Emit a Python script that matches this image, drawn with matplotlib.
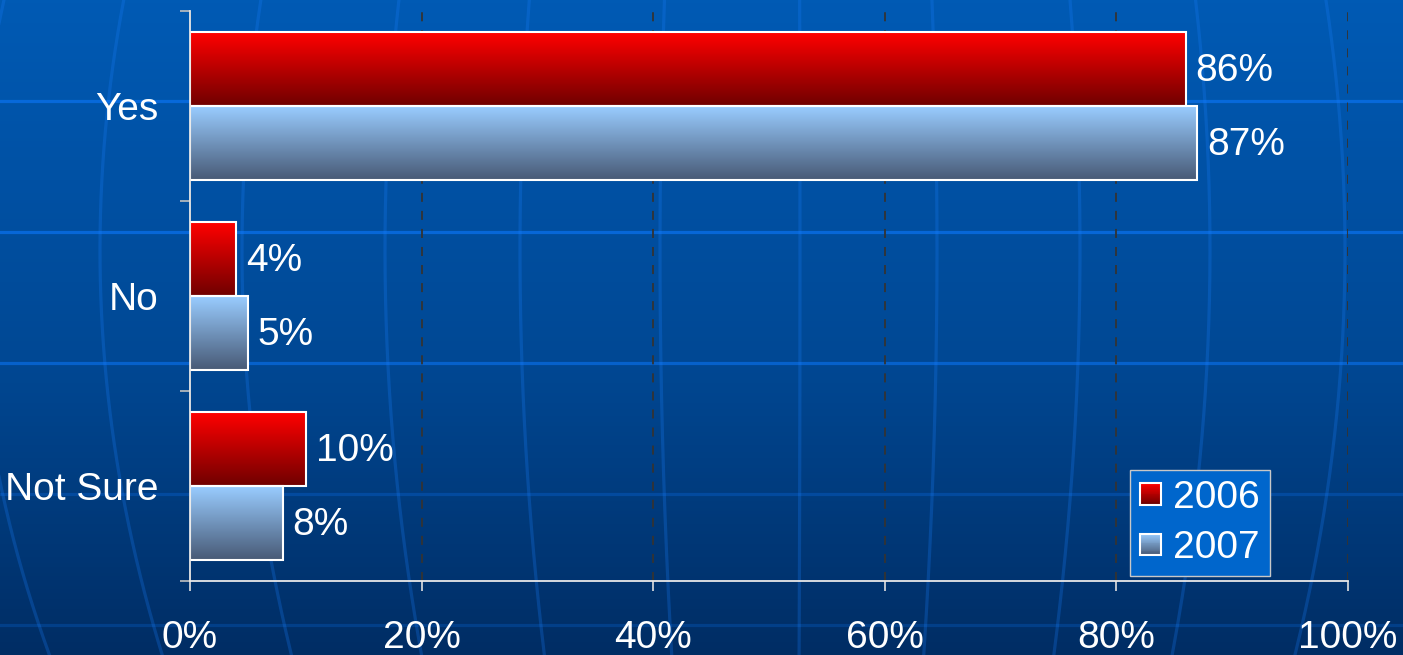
import numpy as np
import matplotlib.pyplot as plt
from matplotlib.patches import Rectangle
from matplotlib.legend_handler import HandlerBase

plt.rcParams['font.family'] = ['Liberation Sans', 'DejaVu Sans']

# datos
categories = ["Yes", "No", "Not Sure"]
years = ["2006", "2007"]
v2006 = [86, 4, 10]
v2007 = [87, 5, 8]
xticks = [0, 20, 40, 60, 80, 100]

# colores de los degradados (arriba, abajo)
red_top, red_bot = np.array([255, 0, 0]) / 255, np.array([112, 0, 0]) / 255
blu_top, blu_bot = np.array([153, 204, 255]) / 255, np.array([72, 90, 118]) / 255
FS = 28


def grad(c1, c2, n=64):
    t = np.linspace(0, 1, n)[:, None]
    return (c1 * (1 - t) + c2 * t)[:, None, :]


class GradHandler(HandlerBase):
    def __init__(self, c1, c2):
        super().__init__()
        self.c1, self.c2 = c1, c2

    def create_artists(self, legend, orig_handle, xdescent, ydescent,
                       width, height, fontsize, trans):
        s = min(width, height)
        x0 = -xdescent + (width - s) / 2
        y0 = -ydescent + (height - s) / 2
        n = 24
        arts = []
        for k in range(n):
            t = k / (n - 1)
            col = self.c1 * (1 - t) + self.c2 * t
            arts.append(Rectangle((x0, y0 + s - (k + 1) * s / n), s, s / n + 0.2,
                                  facecolor=col, edgecolor='none', transform=trans))
        arts.append(Rectangle((x0, y0), s, s, facecolor='none', edgecolor='white',
                              lw=1.5, transform=trans))
        return arts


fig = plt.figure(figsize=(14.03, 6.55), dpi=100)

# fondo (degradado + globo)
bg = fig.add_axes([0, 0, 1, 1], zorder=-1)
bg.set_axis_off()
t = np.linspace(0, 1, 200)
top = np.array([0, 90, 180]) / 255
mid = np.array([0, 72, 148]) / 255
bot = np.array([0, 45, 100]) / 255
col = np.where(t[:, None] < 0.55,
               top + (mid - top) * (t[:, None] / 0.55),
               mid + (bot - mid) * ((t[:, None] - 0.55) / 0.45))
bg.imshow(col[:, None, :], extent=(0, 1403, 655, 0), aspect='auto')
parallels = [101, 232, 363, 494, 625]
par_alpha = [0.75, 0.75, 0.65, 0.3, 0.25]
for yy, al in zip(parallels, par_alpha):
    bg.axhline(yy, color='#0a70ea', lw=2.3, alpha=al)
yy = np.linspace(0, 655, 200)
for xm in [-24, 100, 242, 385, 520, 660, 800, 937, 1080, 1210, 1345, 1480]:
    xx = 790 + (xm - 790) * (1 - 5.5e-7 * (yy - 250) ** 2)
    bg.plot(xx, yy, color='#1a80ff', lw=2.3, alpha=0.25)
bg.set_xlim(0, 1403)
bg.set_ylim(655, 0)

ax = fig.add_axes([190 / 1403, 1 - 581 / 655, 1158 / 1403, 570 / 655])
ax.patch.set_alpha(0)

y = np.arange(len(categories))
h = 0.387
b1 = ax.barh(y - h / 2, v2006, height=h, facecolor='none', edgecolor='white', lw=1.5, zorder=3)
b2 = ax.barh(y + h / 2, v2007, height=h, facecolor='none', edgecolor='white', lw=1.5, zorder=3)
for bars, c1, c2 in [(b1, red_top, red_bot), (b2, blu_top, blu_bot)]:
    for p in bars:
        x, yb, w, hh = p.get_x(), p.get_y(), p.get_width(), p.get_height()
        ax.imshow(grad(c1, c2), extent=(x, x + w, yb + hh, yb), aspect='auto',
                  origin='upper', zorder=2)

for bars, vals in [(b1, v2006), (b2, v2007)]:
    for p, v in zip(bars, vals):
        ax.annotate(f"{v}%", xy=(v, p.get_y() + p.get_height() / 2), xytext=(7, -1.5),
                    textcoords='offset points', va='center', ha='left',
                    color='white', fontsize=FS)

ax.set_xlim(0, 100)
ax.set_ylim(2.5, -0.5)
ax.set_xticks(xticks)
ax.set_xticklabels([f"{v}%" for v in xticks])
ax.set_yticks([-0.5, 0.5, 1.5, 2.5])
ax.set_yticklabels([])
ax.set_yticks(y, minor=True)
ax.set_yticklabels(categories, minor=True)
ax.tick_params(axis='y', which='major', length=7, color='#c0c0c0', width=1.2)
ax.tick_params(axis='y', which='minor', length=0, pad=23, labelsize=FS, labelcolor='white')
ax.tick_params(axis='x', length=7, color='#e0e0e0', width=1.2, pad=21,
               labelsize=FS, labelcolor='white')
ax.grid(axis='x', color='#333333', ls=(0, (5, 5)), lw=1.3, zorder=1)
for s in ['top', 'right']:
    ax.spines[s].set_visible(False)
for s in ['left', 'bottom']:
    ax.spines[s].set_color('#e8e8e8')
    ax.spines[s].set_linewidth(1.3)
    ax.spines[s].set_zorder(4)

leg = ax.legend([b1, b2], years, loc='upper left', bbox_to_anchor=(0.812, 0.195),
                borderaxespad=0, fontsize=FS, labelcolor='white', fancybox=False,
                framealpha=1, facecolor='#0066cc', edgecolor='#c8c8c8',
                handlelength=0.55, handleheight=0.55, handletextpad=0.3,
                labelspacing=0.38, borderpad=0.25,
                handler_map={b1: GradHandler(red_top, red_bot),
                             b2: GradHandler(blu_top, blu_bot)})
leg.set_zorder(5)

fig.savefig("out.png", dpi=100)
